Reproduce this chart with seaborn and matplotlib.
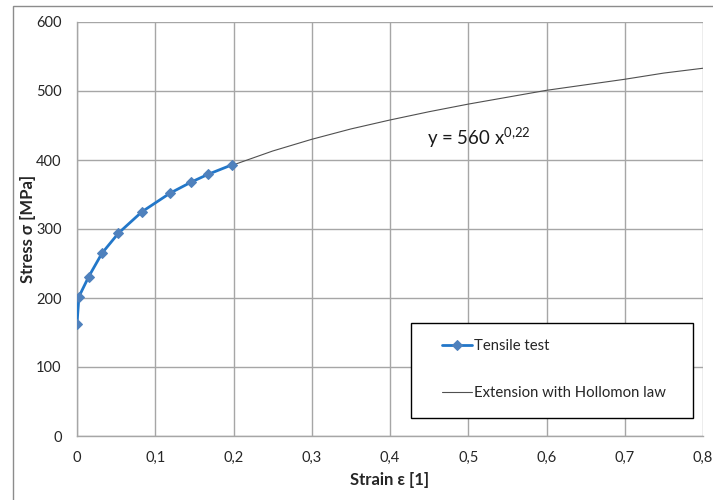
import matplotlib
matplotlib.use("Agg")
import matplotlib.pyplot as plt
import seaborn as sns
import pandas as pd
from matplotlib.patches import Rectangle
from matplotlib.ticker import FuncFormatter

# Data
strain_test = [0.0, 0.0025, 0.015, 0.032, 0.053, 0.083, 0.119, 0.146, 0.167, 0.198]
stress_test = [163, 202, 231, 265, 294, 325, 352, 368, 379, 393]

strain_ext = [0.20, 0.25, 0.30, 0.35, 0.40, 0.45, 0.50, 0.55, 0.60, 0.65, 0.70, 0.75, 0.80]
stress_ext = [393, 413, 430, 445, 458, 470, 481, 491, 501, 509, 517, 526, 533]

x_ticks = [0, 0.1, 0.2, 0.3, 0.4, 0.5, 0.6, 0.7, 0.8]
y_ticks = [0, 100, 200, 300, 400, 500, 600]

df_test = pd.DataFrame({"strain": strain_test, "stress": stress_test})
df_ext = pd.DataFrame({"strain": strain_ext, "stress": stress_ext})

sns.set_theme(style="white")
plt.rcParams["font.family"] = ["Lato", "DejaVu Sans"]

fig = plt.figure(figsize=(7.13, 5.0), dpi=100)
ax = fig.add_axes([77 / 713, 1 - 436 / 500, (703 - 77) / 713, (436 - 22) / 500])

# outer chart border
fig.patches.append(Rectangle((13 / 713, -0.1), 1.2, 1 - 6 / 500 + 0.1,
                             transform=fig.transFigure, fill=False,
                             edgecolor="#8c8c8c", lw=1.0, zorder=0))

sns.lineplot(data=df_ext, x="strain", y="stress", ax=ax, color="#505050",
             lw=0.8, label="Extension with Hollomon law", zorder=3)
sns.lineplot(data=df_test, x="strain", y="stress", ax=ax, color="#2277c9",
             lw=2.0, marker="D", markersize=5.5, markerfacecolor="#4f81bd",
             markeredgecolor="#4f81bd", label="Tensile test", zorder=4)

ax.set_xlim(0, 0.8)
ax.set_ylim(0, 600)
ax.set_xticks(x_ticks)
ax.set_yticks(y_ticks)
ax.xaxis.set_major_formatter(FuncFormatter(lambda v, p: ("%g" % round(v, 2)).replace(".", ",")))
ax.grid(True, color="#a6a6a6", lw=1.0)
for s in ["top", "right"]:
    ax.spines[s].set_visible(False)
for s in ["left", "bottom"]:
    ax.spines[s].set_color("#a6a6a6")
    ax.spines[s].set_linewidth(1.0)
ax.tick_params(axis="y", which="major", direction="out", length=5, width=1,
               color="#a6a6a6", labelsize=10.5, pad=6, labelcolor="#262626")
ax.tick_params(axis="x", which="major", length=0, labelsize=10.5, pad=11,
               labelcolor="#262626")

ax.set_xlabel("Strain ε [1]", fontsize=12, fontweight="bold", labelpad=5)
ax.set_ylabel("Stress σ [MPa]", fontsize=12, fontweight="bold")
ax.yaxis.set_label_coords(-0.066, 0.5)

ax.text(0.514, 432, "y = 560 x$^{\\mathregular{0{,}22}}$", fontsize=13.4,
        ha="center", va="center", color="#1a1a1a")

# legend frame
ax.add_patch(Rectangle(((411 - 77) / 626, 18 / 414), (693 - 411) / 626, (418 - 323) / 414,
                       transform=ax.transAxes, facecolor="white", edgecolor="black",
                       lw=1.0, zorder=9))

handles, labels = ax.get_legend_handles_labels()
order = [1, 0]
leg = ax.legend([handles[i] for i in order], [labels[i] for i in order],
                loc="upper left", bbox_to_anchor=((442 - 77) / 626, (436 - 339) / 414),
                fontsize=10.7, frameon=False, labelspacing=2.25,
                borderpad=0, handlelength=2.0, handletextpad=0.15,
                borderaxespad=0)
leg.set_zorder(10)

fig.savefig("out.png", dpi=100)
